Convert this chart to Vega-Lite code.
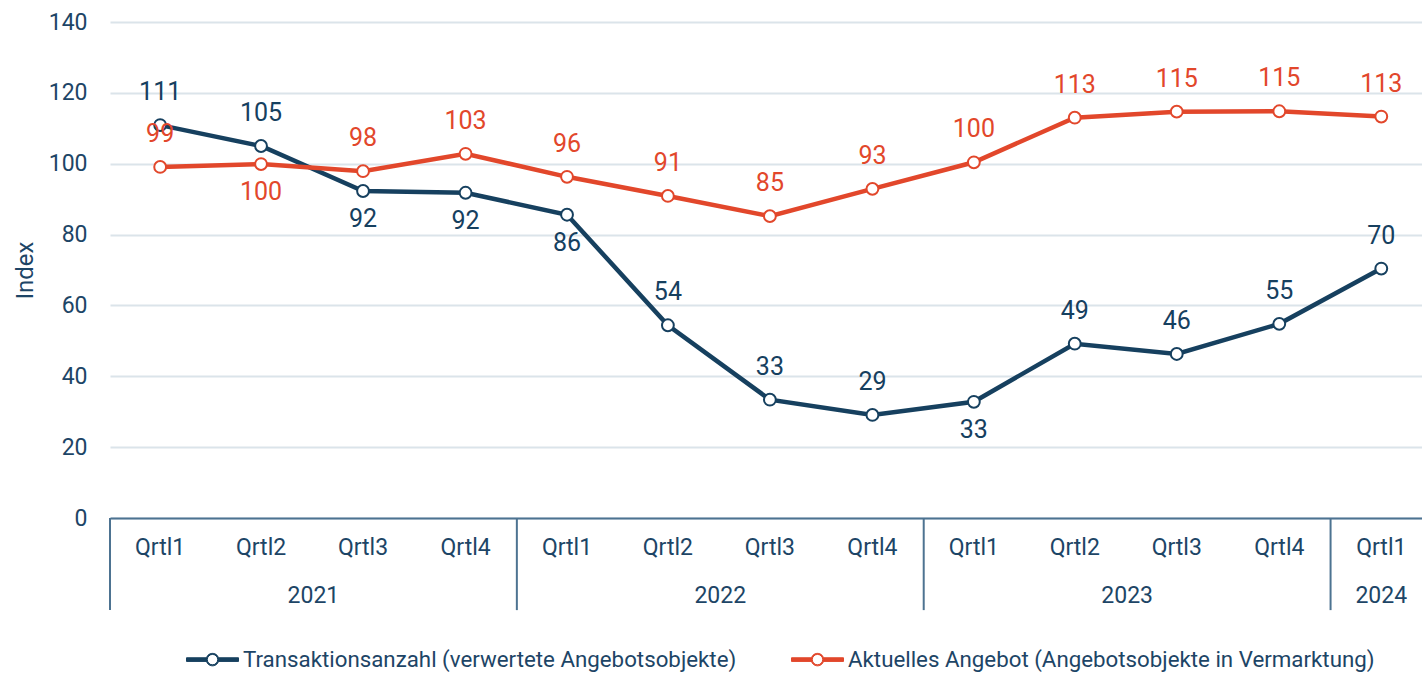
{
  "$schema": "https://vega.github.io/schema/vega-lite/v6.json",
  "autosize": {"type": "none"},
  "padding": {"left": 110, "top": 22, "right": 0, "bottom": 155},
  "width": 1322,
  "height": 496,
  "background": "white",
  "config": {
    "view": {"stroke": null},
    "font": "Roboto",
    "text": {"font": "Roboto"},
    "axisY": {
      "domain": false, "ticks": false, "tickSize": 0,
      "gridColor": "#dbe4ea", "gridWidth": 2,
      "labelPadding": 23, "labelFontSize": 23, "labelColor": "#1d4566", "labelFont": "Roboto",
      "titleFontSize": 24, "titleFontWeight": "normal", "titleColor": "#1d4566", "titleFont": "Roboto",
      "titleX": -85, "titleBaseline": "middle"
    },
    "axisX": {"labels": false, "ticks": false, "grid": false, "domainColor": "#4d7391", "domainWidth": 2},
    "legend": {"labelFontSize": 22.3, "labelColor": "#1d4566", "labelFont": "Roboto"}
  },
  "data": {
    "values": [
      {"date": "2021-01-01", "year": "2021", "q": "Qrtl1", "series": "Transaktionsanzahl (verwertete Angebotsobjekte)", "value": 110.9},
      {"date": "2021-04-01", "year": "2021", "q": "Qrtl2", "series": "Transaktionsanzahl (verwertete Angebotsobjekte)", "value": 105.0},
      {"date": "2021-07-01", "year": "2021", "q": "Qrtl3", "series": "Transaktionsanzahl (verwertete Angebotsobjekte)", "value": 92.3},
      {"date": "2021-10-01", "year": "2021", "q": "Qrtl4", "series": "Transaktionsanzahl (verwertete Angebotsobjekte)", "value": 91.8},
      {"date": "2022-01-01", "year": "2022", "q": "Qrtl1", "series": "Transaktionsanzahl (verwertete Angebotsobjekte)", "value": 85.6},
      {"date": "2022-04-01", "year": "2022", "q": "Qrtl2", "series": "Transaktionsanzahl (verwertete Angebotsobjekte)", "value": 54.4},
      {"date": "2022-07-01", "year": "2022", "q": "Qrtl3", "series": "Transaktionsanzahl (verwertete Angebotsobjekte)", "value": 33.4},
      {"date": "2022-10-01", "year": "2022", "q": "Qrtl4", "series": "Transaktionsanzahl (verwertete Angebotsobjekte)", "value": 29.1},
      {"date": "2023-01-01", "year": "2023", "q": "Qrtl1", "series": "Transaktionsanzahl (verwertete Angebotsobjekte)", "value": 32.8},
      {"date": "2023-04-01", "year": "2023", "q": "Qrtl2", "series": "Transaktionsanzahl (verwertete Angebotsobjekte)", "value": 49.2},
      {"date": "2023-07-01", "year": "2023", "q": "Qrtl3", "series": "Transaktionsanzahl (verwertete Angebotsobjekte)", "value": 46.3},
      {"date": "2023-10-01", "year": "2023", "q": "Qrtl4", "series": "Transaktionsanzahl (verwertete Angebotsobjekte)", "value": 54.8},
      {"date": "2024-01-01", "year": "2024", "q": "Qrtl1", "series": "Transaktionsanzahl (verwertete Angebotsobjekte)", "value": 70.4},
      {"date": "2021-01-01", "year": "2021", "q": "Qrtl1", "series": "Aktuelles Angebot (Angebotsobjekte in Vermarktung)", "value": 99.1},
      {"date": "2021-04-01", "year": "2021", "q": "Qrtl2", "series": "Aktuelles Angebot (Angebotsobjekte in Vermarktung)", "value": 99.9},
      {"date": "2021-07-01", "year": "2021", "q": "Qrtl3", "series": "Aktuelles Angebot (Angebotsobjekte in Vermarktung)", "value": 97.9},
      {"date": "2021-10-01", "year": "2021", "q": "Qrtl4", "series": "Aktuelles Angebot (Angebotsobjekte in Vermarktung)", "value": 102.8},
      {"date": "2022-01-01", "year": "2022", "q": "Qrtl1", "series": "Aktuelles Angebot (Angebotsobjekte in Vermarktung)", "value": 96.3},
      {"date": "2022-04-01", "year": "2022", "q": "Qrtl2", "series": "Aktuelles Angebot (Angebotsobjekte in Vermarktung)", "value": 90.9},
      {"date": "2022-07-01", "year": "2022", "q": "Qrtl3", "series": "Aktuelles Angebot (Angebotsobjekte in Vermarktung)", "value": 85.2},
      {"date": "2022-10-01", "year": "2022", "q": "Qrtl4", "series": "Aktuelles Angebot (Angebotsobjekte in Vermarktung)", "value": 92.9},
      {"date": "2023-01-01", "year": "2023", "q": "Qrtl1", "series": "Aktuelles Angebot (Angebotsobjekte in Vermarktung)", "value": 100.4},
      {"date": "2023-04-01", "year": "2023", "q": "Qrtl2", "series": "Aktuelles Angebot (Angebotsobjekte in Vermarktung)", "value": 113.0},
      {"date": "2023-07-01", "year": "2023", "q": "Qrtl3", "series": "Aktuelles Angebot (Angebotsobjekte in Vermarktung)", "value": 114.7},
      {"date": "2023-10-01", "year": "2023", "q": "Qrtl4", "series": "Aktuelles Angebot (Angebotsobjekte in Vermarktung)", "value": 114.8},
      {"date": "2024-01-01", "year": "2024", "q": "Qrtl1", "series": "Aktuelles Angebot (Angebotsobjekte in Vermarktung)", "value": 113.3}
    ]
  },
  "layer": [
    {
      "mark": {"type": "line", "strokeWidth": 4.5},
      "encoding": {
        "x": {
          "field": "date", "timeUnit": "utcyearquarter", "type": "temporal", "bandPosition": 0.5,
          "scale": {"type": "utc", "domain": [{"year": 2021, "month": 1, "date": 1, "utc": true}, {"year": 2024, "month": 4, "date": 1, "utc": true}]},
          "axis": {"title": null}
        },
        "y": {
          "field": "value", "type": "quantitative",
          "scale": {"domain": [0, 140], "nice": false},
          "axis": {"values": [0, 20, 40, 60, 80, 100, 120, 140], "title": "Index"}
        },
        "color": {
          "field": "series", "type": "nominal",
          "scale": {"domain": ["Transaktionsanzahl (verwertete Angebotsobjekte)", "Aktuelles Angebot (Angebotsobjekte in Vermarktung)"], "range": ["#16405f", "#e2472b"]},
          "legend": {
            "orient": "none", "legendX": 76, "legendY": 611, "direction": "horizontal", "title": null,
            "symbolType": "M-1,-0.07H-0.24V0.07H-1Z M0.24,-0.07H1V0.07H0.24Z M-0.24,0A0.24,0.24 0 1,1 0.24,0A0.24,0.24 0 1,1 -0.24,0Z M-0.2,0A0.2,0.2 0 1,0 0.2,0A0.2,0.2 0 1,0 -0.2,0Z",
            "symbolSize": 2704, "symbolStrokeWidth": 1,
            "labelLimit": 800, "columnPadding": 52, "labelOffset": 4
          }
        }
      }
    },
    {
      "mark": {"type": "point", "filled": true, "fill": "white", "size": 140, "strokeWidth": 2, "opacity": 1},
      "encoding": {
        "x": {"field": "date", "timeUnit": "utcyearquarter", "type": "temporal", "bandPosition": 0.5},
        "y": {"field": "value", "type": "quantitative"},
        "stroke": {
          "field": "series", "type": "nominal",
          "scale": {"domain": ["Transaktionsanzahl (verwertete Angebotsobjekte)", "Aktuelles Angebot (Angebotsobjekte in Vermarktung)"], "range": ["#16405f", "#e2472b"]},
          "legend": null
        }
      }
    },
    {
      "transform": [{"filter": "!((substring(datum.series,0,1)=='T' && indexof(['2021Qrtl3','2021Qrtl4','2022Qrtl1','2023Qrtl1'], datum.year + datum.q) >= 0) || (substring(datum.series,0,1)=='A' && datum.year + datum.q == '2021Qrtl2'))"}],
      "mark": {"type": "text", "fontSize": 25, "dy": -33, "baseline": "middle", "font": "Roboto"},
      "encoding": {
        "x": {"field": "date", "timeUnit": "utcyearquarter", "type": "temporal", "bandPosition": 0.5},
        "y": {"field": "value", "type": "quantitative"},
        "text": {"field": "value", "type": "quantitative", "format": ".0f"},
        "color": {"field": "series", "type": "nominal", "legend": null}
      }
    },
    {
      "transform": [{"filter": "(substring(datum.series,0,1)=='T' && indexof(['2021Qrtl3','2021Qrtl4','2022Qrtl1','2023Qrtl1'], datum.year + datum.q) >= 0) || (substring(datum.series,0,1)=='A' && datum.year + datum.q == '2021Qrtl2')"}],
      "mark": {"type": "text", "fontSize": 25, "dy": 28, "baseline": "middle", "font": "Roboto"},
      "encoding": {
        "x": {"field": "date", "timeUnit": "utcyearquarter", "type": "temporal", "bandPosition": 0.5},
        "y": {"field": "value", "type": "quantitative"},
        "text": {"field": "value", "type": "quantitative", "format": ".0f"},
        "color": {"field": "series", "type": "nominal", "legend": null}
      }
    },
    {
      "transform": [{"filter": "substring(datum.series,0,1)=='T'"}],
      "mark": {"type": "text", "fontSize": 23, "baseline": "middle", "color": "#1d4566", "font": "Roboto"},
      "encoding": {
        "x": {"field": "date", "timeUnit": "utcyearquarter", "type": "temporal", "bandPosition": 0.5},
        "y": {"datum": -8.5},
        "text": {"field": "q", "type": "nominal"}
      }
    },
    {
      "transform": [{"filter": "substring(datum.series,0,1)=='T' && datum.q=='Qrtl1' && datum.year != '2024'"}],
      "mark": {"type": "text", "fontSize": 23, "baseline": "middle", "color": "#1d4566", "font": "Roboto"},
      "encoding": {
        "x": {"field": "date", "timeUnit": "utcyear", "type": "temporal", "bandPosition": 0.5},
        "y": {"datum": -22},
        "text": {"field": "year", "type": "nominal"}
      }
    },
    {
      "transform": [{"filter": "substring(datum.series,0,1)=='T' && datum.year == '2024'"}],
      "mark": {"type": "text", "fontSize": 23, "baseline": "middle", "color": "#1d4566", "font": "Roboto"},
      "encoding": {
        "x": {"field": "date", "timeUnit": "utcyearquarter", "type": "temporal", "bandPosition": 0.5},
        "y": {"datum": -22},
        "text": {"field": "year", "type": "nominal"}
      }
    },
    {
      "transform": [{"filter": "substring(datum.series,0,1)=='T' && datum.q=='Qrtl1'"}],
      "mark": {"type": "rule", "color": "#4d7391", "strokeWidth": 2},
      "encoding": {
        "x": {"field": "date", "timeUnit": "utcyear", "type": "temporal", "bandPosition": 0},
        "y": {"datum": 0},
        "y2": {"datum": -26}
      }
    }
  ]
}
